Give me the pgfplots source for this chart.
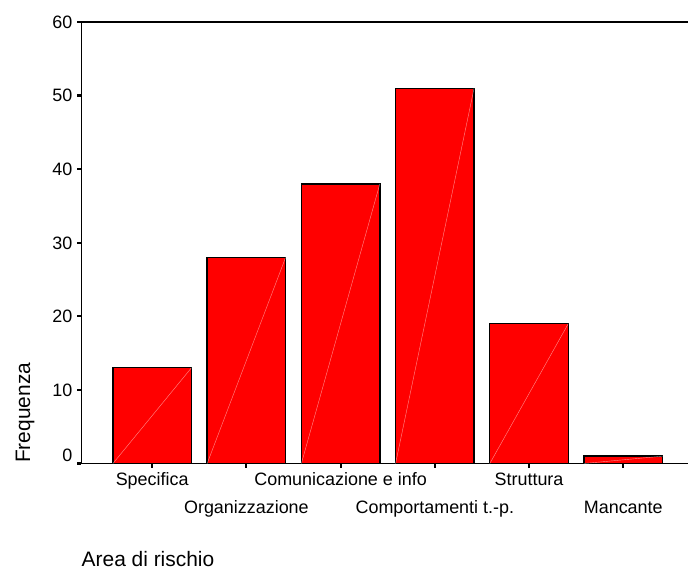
\documentclass[border=0pt]{standalone}
\usepackage{fontspec}
\setmainfont{Liberation Sans}
\usepackage{pgfplots}
\pgfplotsset{compat=1.18}
\begin{document}
\begin{tikzpicture}
\begin{axis}[
  scale only axis,
  width=606.5bp, height=441.5bp,
  xmin=-0.75, xmax=5.687,
  ymin=0, ymax=60,
  axis x line*=box, axis y line*=left,
  axis line style={line width=1.6bp},
  tick pos=left,
  tick align=outside,
  major tick length=4bp,
  tick style={black, line width=2.2bp},
  ytick={0,10,...,60},
  yticklabels={\raisebox{8.5bp}{0},10,20,30,40,50,60},
  xtick={0,1,2,3,4,5},
  xticklabels={Specifica,\raisebox{-28bp}{Organizzazione},Comunicazione e info,\raisebox{-28bp}{Comportamenti t.-p.},Struttura,\raisebox{-28bp}{Mancante}},
  ticklabel style={font=\fontsize{18}{21}\selectfont},
  yticklabel style={inner sep=0pt, anchor=base east, xshift=-5bp, yshift=-6.4bp},
  xticklabel style={inner sep=0pt, anchor=base, yshift=-18bp},
  xlabel={Area di rischio},
  ylabel={Frequenza},
  label style={font=\fontsize{21}{24}\selectfont},
  xlabel style={at={(axis description cs:0,0)}, anchor=base west, inner sep=0pt, yshift=-103bp},
  ylabel style={at={(axis description cs:-0.0849,0.001)}, anchor=base west, inner sep=0pt},
]
\addplot[ybar, bar width=0.833, fill=red, draw=black, line width=1.3bp]
  coordinates {(0,13) (1,28) (2,38) (3,51) (4,19) (5,1)};
\addplot[draw=white, draw opacity=0.55, line width=0.4bp, unbounded coords=jump, forget plot]
  coordinates {(-0.4165,0) (0.4165,13) (0,nan)
               (0.5835,0) (1.4165,28) (1,nan)
               (1.5835,0) (2.4165,38) (2,nan)
               (2.5835,0) (3.4165,51) (3,nan)
               (3.5835,0) (4.4165,19) (4,nan)
               (4.5835,0) (5.4165,1)};
\end{axis}
\pgfresetboundingbox
\path ([shift={(-81.5bp,-108.5bp)}]current axis.south west) rectangle ([shift={(0bp,22bp)}]current axis.north east);
\end{tikzpicture}
\end{document}
